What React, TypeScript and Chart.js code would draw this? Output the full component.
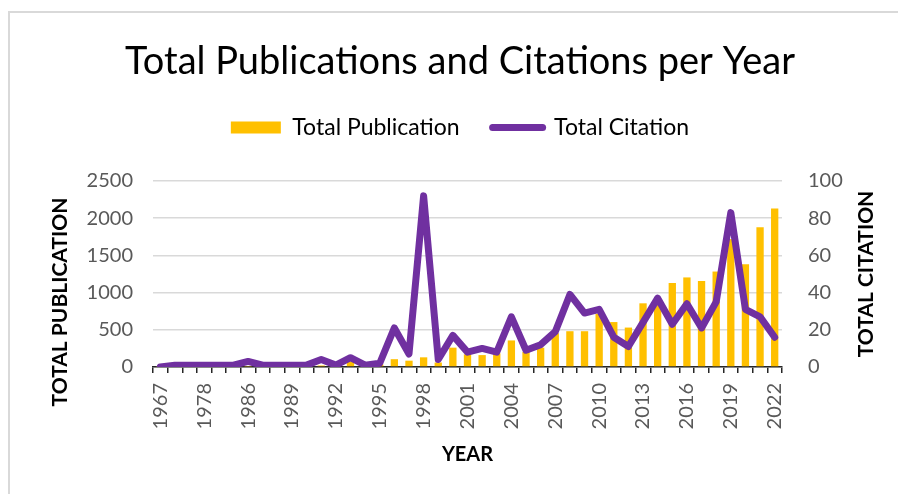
import React, { useEffect, useRef } from 'react';
import { Chart, registerables } from 'chart.js';

Chart.register(...registerables);

const years = [
  '1967', '1970', '1975', '1978', '1980', '1983', '1986', '1987', '1988', '1989',
  '1990', '1991', '1992', '1993', '1994', '1995', '1996', '1997', '1998', '1999',
  '2000', '2001', '2002', '2003', '2004', '2005', '2006', '2007', '2008', '2009',
  '2010', '2011', '2012', '2013', '2014', '2015', '2016', '2017', '2018', '2019',
  '2020', '2021', '2022',
];

const publications = [
  2, 1, 1, 2, 3, 40, 6, 4, 5, 7,
  8, 20, 12, 75, 25, 35, 105, 85, 130, 60,
  260, 170, 160, 185, 357, 203, 260, 454, 481, 481,
  715, 604, 530, 856, 880, 1129, 1204, 1155, 1283, 1720,
  1380, 1879, 2130,
];

const citations = [
  0, 1, 1, 1, 1, 1, 3, 1, 1, 1,
  1, 4, 1, 5, 1, 2, 21, 7, 92, 4,
  17, 8, 10, 8, 27, 9, 12, 19, 39, 29,
  31, 16, 11, 24, 37, 23, 34, 21, 35, 83,
  31, 27, 16,
];

const TITLE = 'Total Publications and Citations per Year';
const PUB_LABEL = 'Total Publication';
const CIT_LABEL = 'Total Citation';
const LEFT_TITLE = 'TOTAL PUBLICATION';
const RIGHT_TITLE = 'TOTAL CITATION';
const X_TITLE = 'YEAR';

const BAR_COLOR = '#FFC000';
const LINE_COLOR = '#7030A0';
const FONT = 'Lato';
const PAD_LEFT = 22;

const sideTitles = {
  id: 'sideTitles',
  afterDraw(chart: any) {
    const { ctx, chartArea } = chart;
    ctx.save();
    ctx.font = `bold 21px ${FONT}`;
    ctx.fillStyle = '#000';
    ctx.textAlign = 'center';
    ctx.textBaseline = 'middle';
    const midY = (chartArea.top + chartArea.bottom) / 2;
    ctx.save();
    ctx.translate(chartArea.left - 93, midY + 28);
    ctx.rotate(-Math.PI / 2);
    ctx.fillText(LEFT_TITLE, 0, 0);
    ctx.restore();
    ctx.save();
    ctx.translate(chartArea.right + 84, midY);
    ctx.rotate(-Math.PI / 2);
    ctx.fillText(RIGHT_TITLE, 0, 0);
    ctx.restore();
    ctx.restore();
  },
};

export default function App() {
  const ref = useRef<HTMLCanvasElement | null>(null);

  useEffect(() => {
    if (!ref.current) return;
    Chart.defaults.font.family = FONT;
    const chart = new Chart(ref.current, {
      type: 'bar',
      data: {
        labels: years,
        datasets: [
          {
            type: 'line',
            label: CIT_LABEL,
            data: citations,
            yAxisID: 'y1',
            borderColor: LINE_COLOR,
            backgroundColor: LINE_COLOR,
            borderWidth: 7,
            pointRadius: 0,
            tension: 0,
            borderJoinStyle: 'round',
            borderCapStyle: 'round',
            order: 0,
          } as any,
          {
            type: 'bar',
            label: PUB_LABEL,
            data: publications,
            yAxisID: 'y',
            backgroundColor: BAR_COLOR,
            barPercentage: 0.5,
            categoryPercentage: 1.0,
            order: 1,
          },
        ],
      },
      options: {
        responsive: false,
        animation: false,
        layout: { padding: { left: PAD_LEFT, right: 0, top: 0, bottom: 0 } },
        plugins: {
          title: {
            display: true,
            text: TITLE,
            color: '#000',
            font: { size: 38, weight: 'normal', family: FONT, lineHeight: 1.2 },
            padding: { top: 39.2, bottom: -1.8 },
          },
          subtitle: {
            display: true,
            text: '',
            font: { size: 2, lineHeight: 1 },
            padding: { top: 30, bottom: 0 },
          },
          legend: {
            display: true,
            position: 'top',
            weight: 1600,
            labels: {
              usePointStyle: true,
              pointStyleWidth: 50,
              boxHeight: 12,
              padding: 33,
              color: '#595959',
              font: { size: 23, family: FONT },
              generateLabels: () => [
                {
                  text: PUB_LABEL,
                  fillStyle: BAR_COLOR,
                  strokeStyle: BAR_COLOR,
                  lineWidth: 0,
                  pointStyle: 'rect',
                  hidden: false,
                  datasetIndex: 1,
                },
                {
                  text: CIT_LABEL,
                  fillStyle: LINE_COLOR,
                  strokeStyle: LINE_COLOR,
                  lineWidth: 7,
                  lineCap: 'round',
                  pointStyle: 'line',
                  hidden: false,
                  datasetIndex: 0,
                },
              ],
            },
          } as any,
          tooltip: { enabled: false },
        },
        scales: {
          x: {
            offset: true,
            grid: {
              display: true,
              drawOnChartArea: false,
              drawTicks: true,
              tickLength: 6,
              color: '#262626',
              lineWidth: 1.5,
              offset: true,
            },
            border: { display: true, color: '#262626', width: 1.5 },
            ticks: {
              autoSkip: false,
              maxRotation: 90,
              minRotation: 90,
              padding: 10,
              color: '#595959',
              font: { size: 20, family: FONT },
              callback: (_v: any, i: number) => (i % 3 === 0 ? years[i] : ''),
            },
            title: {
              display: true,
              text: X_TITLE,
              color: '#000',
              font: { size: 20, weight: 'bold', family: FONT, lineHeight: 1.2 },
              padding: { top: 0, bottom: 27 },
            },
            afterFit: (scale: any) => {
              scale.height = 494 - 367;
            },
          },
          y: {
            position: 'left',
            min: 0,
            max: 2500,
            grid: { color: '#d9d9d9', lineWidth: 1.5, drawTicks: false },
            border: { display: false },
            ticks: {
              stepSize: 500,
              padding: 20,
              color: '#595959',
              font: { size: 20, family: FONT },
              callback: (v: any) => String(v),
            },
            afterFit: (scale: any) => {
              scale.width = 153 - PAD_LEFT;
            },
          },
          y1: {
            position: 'right',
            min: 0,
            max: 100,
            grid: { display: false, drawOnChartArea: false },
            border: { display: false },
            ticks: {
              stepSize: 20,
              padding: 18,
              color: '#595959',
              font: { size: 20, family: FONT },
              callback: (v: any) => String(v),
            },
            afterFit: (scale: any) => {
              scale.width = 898 - 782;
            },
          },
        },
      } as any,
      plugins: [sideTitles],
    });
    return () => chart.destroy();
  }, []);

  return (
    <div>
      <div
        style={{
          position: 'fixed',
          left: 8,
          top: 11,
          width: 900,
          height: 500,
          borderLeft: '2px solid #d9d9d9',
          borderTop: '2px solid #d9d9d9',
        }}
      />
      <canvas
        ref={ref}
        width={898}
        height={494}
        style={{ position: 'fixed', left: 0, top: 0, width: 898, height: 494 }}
      />
    </div>
  );
}
